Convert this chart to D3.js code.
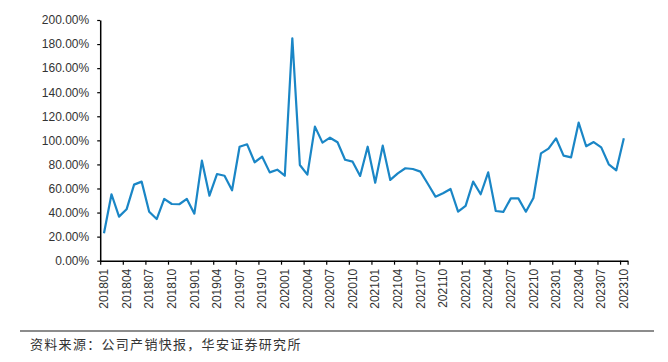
<!DOCTYPE html>
<html>
<head>
<meta charset="utf-8">
<script src="https://cdn.jsdelivr.net/npm/d3@7"></script>
<style>
  body { margin: 0; background: #fff; }
  text { font-family: "Liberation Sans", Arial, sans-serif; }
</style>
</head>
<body>
<svg id="chart" width="668" height="362"></svg>
<script>
// months 201801 .. 202310
var months = [];
for (var yr = 2018; yr <= 2023; yr++) {
  for (var m = 1; m <= 12; m++) {
    if (yr === 2023 && m > 10) break;
    months.push(yr + (m < 10 ? "0" : "") + m);
  }
}

// values in %
var values = [22.8, 55.2, 36.6, 42.7, 63.2, 65.7, 40.7, 34.6, 51.3, 47.1,
              46.9, 51.3, 39.1, 83.1, 54.0, 72.0, 70.6, 58.5, 94.7, 96.7,
              81.8, 86.4, 73.4, 75.6, 70.6, 184.8, 79.5, 71.5, 111.4, 98.1,
              102.2, 98.4, 83.9, 82.3, 70.4, 94.7, 64.8, 95.6, 67.1, 72.6,
              76.8, 76.2, 74.0, 63.7, 53.2, 56.0, 59.6, 40.7, 45.5, 65.7,
              55.2, 73.4, 41.3, 40.5, 51.8, 51.8, 40.7, 52.1, 89.2, 93.1,
              101.7, 87.3, 85.9, 114.7, 95.1, 98.6, 94.2, 80.1, 75.1, 101.7];

var yTicks = [0, 20, 40, 60, 80, 100, 120, 140, 160, 180, 200];
var xLabels = months.filter(function(d, i) { return i % 3 === 0; });
var sourceText = "资料来源：公司产销快报，华安证券研究所";

var svg = d3.select("#chart");
var plotL = 100.2, plotR = 627.6, plotT = 20, plotB = 260.7;

var x = d3.scaleBand().domain(months).range([plotL, plotR]).padding(0);
var xb = d3.scaleLinear().domain([0, months.length]).range([plotL, plotR]);
var y = d3.scaleLinear().domain([0, 200]).range([plotB, plotT]);

// y axis
var yAxis = svg.append("g")
    .attr("transform", "translate(" + plotL + ",0)")
    .call(d3.axisLeft(y)
      .tickValues(yTicks)
      .tickSize(3)
      .tickSizeOuter(0)
      .tickPadding(8)
      .tickFormat(function(d) { return d.toFixed(2) + "%"; }));
yAxis.select(".domain").attr("stroke", "#000").attr("stroke-width", 1.5);
yAxis.selectAll("line").attr("stroke", "#000").attr("stroke-width", 1.2);
yAxis.selectAll("text").attr("font-size", 12).attr("fill", "#333")
    .style("font-family", "'Liberation Sans', Arial, sans-serif");

// x axis tick marks at category boundaries
var bTicks = d3.range(0, months.length, 3).concat([months.length]);
var xAxis = svg.append("g")
    .attr("transform", "translate(0," + plotB + ")")
    .call(d3.axisBottom(xb).tickValues(bTicks).tickSize(4).tickSizeOuter(0).tickFormat(""));
xAxis.select(".domain").attr("stroke", "#000").attr("stroke-width", 1.5);
xAxis.selectAll("line").attr("stroke", "#000").attr("stroke-width", 1.2);

// x labels
var xLab = svg.append("g")
    .attr("transform", "translate(0," + plotB + ")")
    .call(d3.axisBottom(x).tickValues(xLabels).tickSize(0).tickPadding(0));
xLab.select(".domain").remove();
xLab.selectAll("text")
    .attr("font-size", 12)
    .attr("fill", "#333")
    .style("font-family", "'Liberation Sans', Arial, sans-serif")
    .attr("text-anchor", "end")
    .attr("dy", "0.35em")
    .attr("transform", "translate(0,8) rotate(-90)")
    .attr("x", 0)
    .attr("y", 0);

// line
var line = d3.line()
    .x(function(d, i) { return x(months[i]) + x.bandwidth() / 2; })
    .y(function(d) { return y(d); });

svg.append("path")
    .datum(values)
    .attr("fill", "none")
    .attr("stroke", "#1a86c6")
    .attr("stroke-width", 2.2)
    .attr("stroke-linejoin", "round")
    .attr("d", line);

// source rule + text
svg.append("line")
    .attr("x1", 20).attr("x2", 654)
    .attr("y1", 331).attr("y2", 331)
    .attr("stroke", "#8c8c8c").attr("stroke-width", 2);

svg.append("text")
    .attr("x", 30)
    .attr("y", 349)
    .attr("font-size", 13)
    .attr("fill", "#333")
    .style("font-family", "'Noto Sans CJK SC', sans-serif")
    .style("letter-spacing", "1.3px")
    .text(sourceText);
</script>
</body>
</html>
